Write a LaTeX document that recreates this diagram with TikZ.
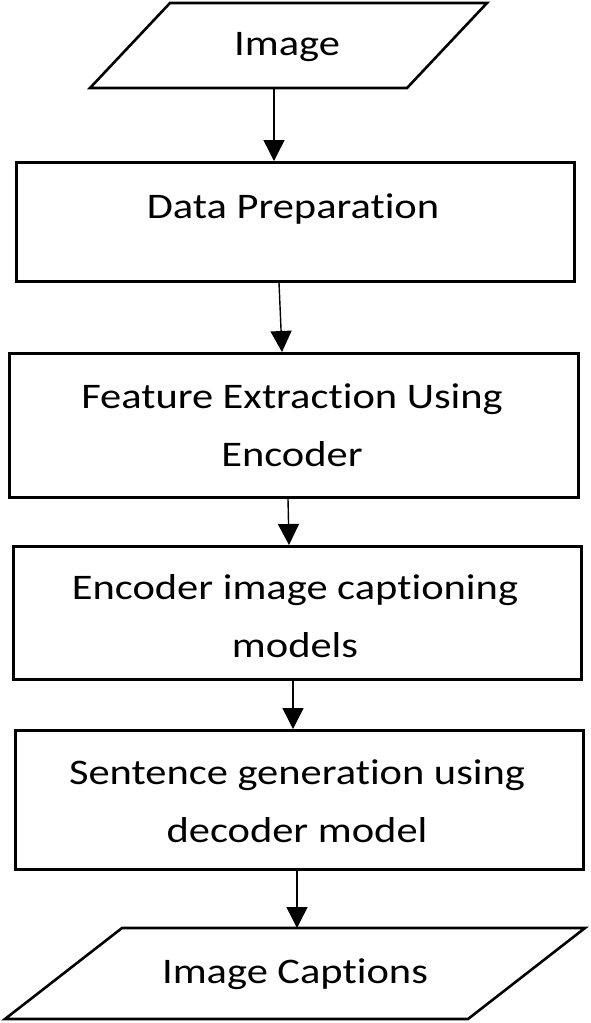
\documentclass[tikz,border=0pt]{standalone}
\usepackage{fontspec}
\setmainfont{Carlito}[FakeStretch=1.18,Ligatures={NoCommon,NoDiscretionary,NoRare}]
\usetikzlibrary{arrows.meta}
\begin{document}
\begin{tikzpicture}[x=1pt,y=-1pt,
  box/.style={draw,line width=2.6pt,inner sep=0pt,anchor=north west},
  io/.style={draw,line width=2.6pt,line join=miter},
  lbl/.style={font=\fontsize{36}{58}\selectfont,align=center,anchor=base,inner sep=0pt},
  arr/.style={line width=1.4pt,-{Triangle[width=21pt,length=21pt]}}]
\useasboundingbox (0,0) rectangle (591,1023);
% input parallelogram
\draw[io] (170,3) -- (487,3) -- (407,88) -- (90,88) -- cycle;
\coordinate (imgout) at (274,88);
\node[lbl] (img) at (287,55) {Image};
% process boxes
\node[box, minimum width=558pt, minimum height=119pt] (dp) at (15,161) {};
\node[lbl] (dpt) at (293,218) {Data Preparation};
\node[box, minimum width=569pt, minimum height=144pt] (fe) at (8,352) {};
\node[lbl] (fet) at (292,466) {Feature Extraction Using\\Encoder};
\node[box, minimum width=568pt, minimum height=133pt] (en) at (12,545) {};
\node[lbl] (ent) at (295,657) {Encoder image captioning\\models};
\node[box, minimum width=568pt, minimum height=139pt] (sg) at (14,729) {};
\node[lbl] (sgt) at (297,842) {Sentence generation using\\decoder model};
% output parallelogram
\draw[io] (122,928) -- (585,928) -- (468,1019) -- (5,1019) -- cycle;
\coordinate (capin) at (297,928);
\node[lbl] (cap) at (295,983) {Image Captions};
% connectors
\draw[arr] (imgout) -- (274,0 |- dp.north);
\draw[arr] (279,0 |- dp.south) -- (282,0 |- fe.north);
\draw[arr] (288,0 |- fe.south) -- (289,0 |- en.north);
\draw[arr] (293,0 |- en.south) -- (293,0 |- sg.north);
\draw[arr] (297,0 |- sg.south) -- (capin);
\end{tikzpicture}
\end{document}
